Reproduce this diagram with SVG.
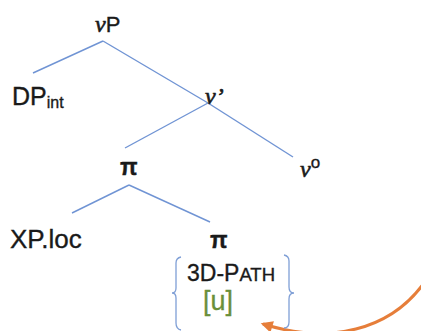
<svg xmlns="http://www.w3.org/2000/svg" width="421" height="331" viewBox="0 0 421 331">
<defs>
<style>
.sans{font-family:"Liberation Sans","Open Sans",sans-serif;fill:#1a1a1a;stroke:#1a1a1a;stroke-width:0.35}
.ital{font-family:"Liberation Serif","DejaVu Serif",serif;font-style:italic;fill:#1a1a1a;stroke:#1a1a1a;stroke-width:0.6}
.edge{stroke:#7094d4;stroke-width:1.4;fill:none}
.brace{stroke:#7f9fd6;stroke-width:1.3;fill:none}
</style>
<marker id="ah" viewBox="0 0 10 10" refX="8" refY="5" markerWidth="4.5" markerHeight="4" orient="auto" markerUnits="strokeWidth">
<path d="M0,0 L10,5 L0,10 z" fill="#e67e3a"/>
</marker>
</defs>
<rect width="421" height="331" fill="#ffffff"/>
<g id="connectors">
<line class="edge" x1="103" y1="41" x2="33" y2="73"/>
<line class="edge" x1="103" y1="41" x2="208" y2="103"/>
<line class="edge" x1="208" y1="103" x2="125" y2="148"/>
<line class="edge" x1="208" y1="103" x2="293" y2="157"/>
<line class="edge" x1="129" y1="185" x2="72" y2="213"/>
<line class="edge" x1="129" y1="185" x2="210" y2="222"/>
<path d="M424 283 C390 330 330 345 263 324" stroke="#e67e3a" stroke-width="3" fill="none" marker-end="url(#ah)"/>
</g>
<g id="vP"><text x="95" y="32" font-size="24"><tspan class="ital">ν</tspan><tspan class="sans" font-size="22">P</tspan></text></g>
<g id="DPint"><text class="sans" x="12" y="105" font-size="25">DP<tspan font-size="16" dy="3">int</tspan></text></g>
<g id="vbar"><text class="ital" x="205" y="104" font-size="24">ν’</text></g>
<g id="pi1"><text class="sans" x="120" y="175" font-size="23" font-weight="bold">π</text></g>
<g id="v0"><text class="ital" x="300" y="177" font-size="24">ν<tspan class="sans" font-style="normal" font-size="17" dy="-9">o</tspan></text></g>
<g id="XPloc"><text class="sans" x="10" y="248" font-size="26">XP.loc</text></g>
<g id="pi2">
<text class="sans" x="210" y="248" font-size="23" font-weight="bold">π</text>
<path class="brace" d="M181 257 Q176 258 176 263 L176 288 Q176 293 172 293 Q176 293 176 298 L176 323 Q176 329 181 330"/>
<path class="brace" d="M284 255 Q289 256 289 261 L289 287 Q289 293 294 293 Q289 293 289 299 L289 322 Q289 328 284 328"/>
<text class="sans" x="187" y="281" font-size="23">3D-P<tspan font-size="18.5">ATH</tspan></text>
<text x="203" y="310" font-size="27" font-family="Liberation Sans, Open Sans, sans-serif" fill="#6a8f3a" stroke="#6a8f3a" stroke-width="0.3">[u]</text>
</g>
</svg>
